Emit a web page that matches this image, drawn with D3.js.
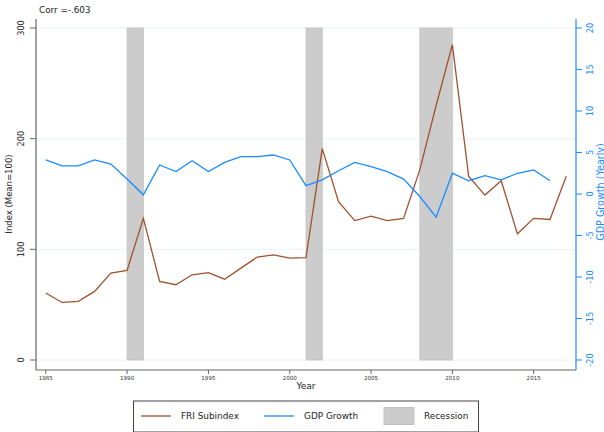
<!DOCTYPE html>
<html>
<head>
<meta charset="utf-8">
<script src="https://cdn.jsdelivr.net/npm/d3@7"></script>
<style>
  body { margin: 0; background: #fff; }
  svg { font-family: "DejaVu Sans", sans-serif; }
</style>
</head>
<body>
<svg id="chart"></svg>
<script>
// data
const years = d3.range(1985, 2018);
const fri = [60.5, 52, 53, 62, 78.5, 81, 128, 71, 68, 77, 79, 73, 83, 93, 95, 92, 92.5,
  191, 143, 126, 130, 126, 128, 172, 230, 285, 166, 149, 162, 114, 128, 127, 166];
const gdpYears = d3.range(1985, 2017);
const gdp = [4.1, 3.4, 3.4, 4.1, 3.6, 1.8, -0.1, 3.5, 2.7, 4.0, 2.7, 3.8, 4.5, 4.5, 4.7, 4.1,
  1.0, 1.7, 2.8, 3.8, 3.3, 2.7, 1.8, -0.3, -2.8, 2.5, 1.6, 2.2, 1.7, 2.5, 2.9, 1.6];
const recessions = [[1990, 1991], [2001, 2002], [2008, 2010]];
const xTicks = [1985, 1990, 1995, 2000, 2005, 2010, 2015];
const leftTicks = [0, 100, 200, 300];
const rightTicks = [-20, -15, -10, -5, 0, 5, 10, 15, 20];

const W = 604, H = 432;
const brown = "#a0522d", blue = "#1a8cff";
const svg = d3.select("#chart").attr("width", W).attr("height", H);

// plot box
const pLeft = 36, pRight = 576, pTop = 19, pBottom = 370;

const x = d3.scaleLinear().domain([1984.4, 2017.6]).range([pLeft, pRight]);
const yL = d3.scaleLinear().domain([0, 300]).range([360, 28]);
const yR = d3.scaleLinear().domain([-20, 20]).range([360, 28]);

// gridlines
svg.append("g").selectAll("line").data(leftTicks).join("line")
  .attr("x1", pLeft).attr("x2", pRight)
  .attr("y1", d => yL(d)).attr("y2", d => yL(d))
  .attr("stroke", "#eaf2f3").attr("stroke-width", 1);

// recession bars
svg.append("g").selectAll("rect").data(recessions).join("rect")
  .attr("x", d => x(d[0])).attr("width", d => x(d[1]) - x(d[0]))
  .attr("y", yL(300)).attr("height", yL(0) - yL(300))
  .attr("fill", "#cccccc").attr("stroke", "#c2c2c2").attr("stroke-width", 0.8);

// lines
const friLine = d3.line().x((d, i) => x(years[i])).y(d => yL(d));
const gdpLine = d3.line().x((d, i) => x(gdpYears[i])).y(d => yR(d));
svg.append("path").datum(fri).attr("d", friLine)
  .attr("fill", "none").attr("stroke", brown).attr("stroke-width", 1.3);
svg.append("path").datum(gdp).attr("d", gdpLine)
  .attr("fill", "none").attr("stroke", blue).attr("stroke-width", 1.3);

// left axis
const gL = svg.append("g").attr("transform", `translate(${pLeft},0)`);
gL.append("line").attr("y1", pTop).attr("y2", pBottom).attr("stroke", "#666").attr("stroke-width", 1.2);
gL.selectAll("line.t").data(leftTicks).join("line").attr("class", "t")
  .attr("x1", -6).attr("x2", 0).attr("y1", d => yL(d)).attr("y2", d => yL(d))
  .attr("stroke", "#666");
gL.selectAll("text").data(leftTicks).join("text")
  .attr("transform", d => `translate(-12,${yL(d)}) rotate(-90)`)
  .attr("text-anchor", "middle").attr("font-size", 8.2).attr("fill", "#333")
  .text(d => d);
svg.append("text").attr("transform", `translate(12,194) rotate(-90)`)
  .attr("text-anchor", "middle").attr("font-size", 8.5).attr("fill", "#222")
  .text("Index (Mean=100)");

// bottom axis
const gB = svg.append("g").attr("transform", `translate(0,${pBottom})`);
gB.append("line").attr("x1", pLeft).attr("x2", pRight).attr("stroke", "#666").attr("stroke-width", 1.2);
gB.selectAll("line.t").data(xTicks).join("line").attr("class", "t")
  .attr("x1", d => x(d)).attr("x2", d => x(d)).attr("y1", 0).attr("y2", 4)
  .attr("stroke", "#666");
gB.selectAll("text").data(xTicks).join("text")
  .attr("x", d => x(d)).attr("y", 10)
  .attr("text-anchor", "middle").attr("font-size", 5.6).attr("fill", "#333")
  .text(d => d);
svg.append("text").attr("x", 306).attr("y", 389).attr("text-anchor", "middle")
  .attr("font-size", 9).attr("fill", "#222").text("Year");

// right axis (labels read upward like the left ones)
const gR = svg.append("g").attr("transform", `translate(${pRight},0)`);
gR.append("line").attr("y1", pTop).attr("y2", pBottom).attr("stroke", blue).attr("stroke-width", 1.2);
gR.selectAll("line.t").data(rightTicks).join("line").attr("class", "t")
  .attr("x1", 0).attr("x2", 6).attr("y1", d => yR(d)).attr("y2", d => yR(d))
  .attr("stroke", blue);
gR.selectAll("text").data(rightTicks).join("text")
  .attr("transform", d => `translate(17,${yR(d)}) rotate(-90)`)
  .attr("text-anchor", "middle").attr("font-size", 8.2).attr("fill", blue)
  .text(d => d);
svg.append("text").attr("transform", `translate(603.5,192) rotate(-90)`)
  .attr("text-anchor", "middle").attr("font-size", 9.6).attr("fill", blue)
  .text("GDP Growth (Yearly)");

// correlation note
svg.append("text").attr("x", 39).attr("y", 13).attr("font-size", 8.8).attr("fill", "#222")
  .text("Corr =-.603");

// legend
const lg = svg.append("g");
lg.append("rect").attr("x", 133.5).attr("y", 401).attr("width", 345).attr("height", 31)
  .attr("fill", "#fff").attr("stroke", "#444").attr("stroke-width", 1);
const ly = 416;
lg.append("line").attr("x1", 141).attr("x2", 171).attr("y1", ly).attr("y2", ly)
  .attr("stroke", brown).attr("stroke-width", 1.3);
lg.append("text").attr("x", 181).attr("y", ly + 3).attr("font-size", 8.9).attr("fill", "#222").text("FRI Subindex");
lg.append("line").attr("x1", 264).attr("x2", 294).attr("y1", ly).attr("y2", ly)
  .attr("stroke", blue).attr("stroke-width", 1.3);
lg.append("text").attr("x", 304).attr("y", ly + 3).attr("font-size", 8.9).attr("fill", "#222").text("GDP Growth");
lg.append("rect").attr("x", 384).attr("y", 407.5).attr("width", 30).attr("height", 17)
  .attr("fill", "#cccccc").attr("stroke", "#c2c2c2");
lg.append("text").attr("x", 424).attr("y", ly + 3).attr("font-size", 8.9).attr("fill", "#222").text("Recession");
</script>
</body>
</html>
